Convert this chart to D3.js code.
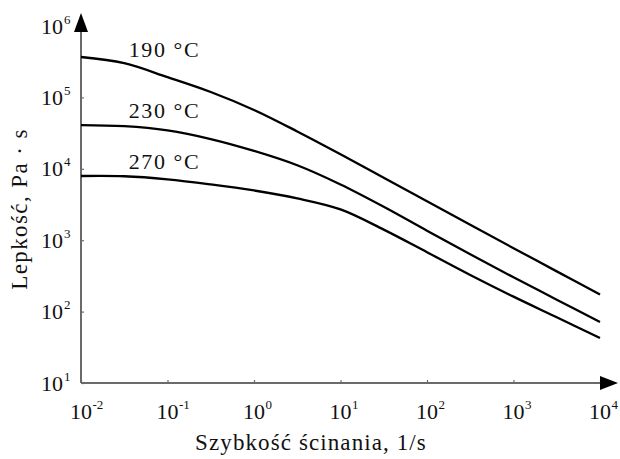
<!DOCTYPE html>
<html>
<head>
<meta charset="utf-8">
<script src="https://cdn.jsdelivr.net/npm/d3@7"></script>
<style>
  body { margin: 0; background: #fff; }
  text { font-family: "Liberation Serif", "Times New Roman", serif; fill: #111; }
</style>
</head>
<body>
<script>
// shear rate, 1/s
var rate = [0.01, 0.0316, 0.1, 0.316, 1, 3.16, 10, 31.6, 100, 316, 1000, 3160, 10000];
// viscosity, Pa s
var eta190 = [368000, 301000, 192000, 119000, 66700, 33400, 16000, 7480, 3500, 1640, 774, 366, 173];
var eta230 = [41000, 39600, 34500, 26100, 17800, 11200, 6030, 2940, 1360, 635, 302, 147, 71.4];
var eta270 = [7930, 7870, 7130, 6050, 4970, 3850, 2700, 1406, 679, 326, 162, 83.2, 42.7];

var series = ['190 °C', '230 °C', '270 °C'];
var labelRate = [0.1, 0.1, 0.1];
var labelEta = [370000, 52000, 10000];

var xTicks = [1e-2, 1e-1, 1e0, 1e1, 1e2, 1e3, 1e4];
var xExp = ['-2', '-1', '0', '1', '2', '3', '4'];
var yTicks = [1e1, 1e2, 1e3, 1e4, 1e5, 1e6];
var yExp = ['1', '2', '3', '4', '5', '6'];

var width = 620,
    height = 459;

var svg = d3.select('body').append('svg')
    .attr('width', width)
    .attr('height', height);

var x = d3.scaleLog().domain([1e-2, 1e4]).range([81, 600]);
var y = d3.scaleLog().domain([1e1, 1e6]).range([383, 26]);

var axisColor = '#6a6a6a';

// ticks (inside, tiny)
svg.append('g')
    .attr('transform', 'translate(0,' + y(10) + ')')
    .call(d3.axisBottom(x).tickValues(xTicks).tickSize(-3).tickFormat(''))
    .call(function (g) { g.select('.domain').remove(); })
    .selectAll('line').attr('stroke', axisColor).attr('stroke-width', 1.2);

svg.append('g')
    .attr('transform', 'translate(' + x(0.01) + ',0)')
    .call(d3.axisLeft(y).tickValues(yTicks).tickSize(-3).tickFormat(''))
    .call(function (g) { g.select('.domain').remove(); })
    .selectAll('line').attr('stroke', axisColor).attr('stroke-width', 1.2);

// axis lines with arrows
svg.append('line')
    .attr('x1', x(0.01)).attr('y1', y(10))
    .attr('x2', 604).attr('y2', y(10))
    .attr('stroke', axisColor).attr('stroke-width', 2);
svg.append('path')
    .attr('d', 'M600,' + (y(10) - 7) + 'L618,' + y(10) + 'L600,' + (y(10) + 7) + 'Z')
    .attr('fill', '#000');

svg.append('line')
    .attr('x1', x(0.01)).attr('y1', y(10))
    .attr('x2', x(0.01)).attr('y2', 28)
    .attr('stroke', axisColor).attr('stroke-width', 2);
svg.append('path')
    .attr('d', 'M' + (x(0.01) - 7) + ',32L' + x(0.01) + ',13L' + (x(0.01) + 7) + ',32Z')
    .attr('fill', '#000');

// tick labels: 10 with superscript exponent
var xl = svg.append('g').selectAll('g')
    .data(xTicks)
    .enter().append('g')
    .attr('transform', function (d) { return 'translate(' + x(d) + ',419)'; });
xl.append('text')
    .attr('text-anchor', 'middle')
    .style('font-size', '22px')
    .text('10');
xl.append('text')
    .attr('x', 11.5)
    .attr('y', -10)
    .style('font-size', '13px')
    .text(function (d, i) { return xExp[i]; });

var yl = svg.append('g').selectAll('g')
    .data(yTicks)
    .enter().append('g')
    .attr('transform', function (d) { return 'translate(63,' + (y(d) + 7.5) + ')'; });
yl.append('text')
    .attr('text-anchor', 'end')
    .style('font-size', '22px')
    .text('10');
yl.append('text')
    .attr('x', 1)
    .attr('y', -10)
    .style('font-size', '13px')
    .text(function (d, i) { return yExp[i]; });

// axis titles
svg.append('text')
    .attr('x', 311)
    .attr('y', 450)
    .attr('text-anchor', 'middle')
    .style('font-size', '23px')
    .style('letter-spacing', '1.1px')
    .text('Szybkość ścinania, 1/s');

svg.append('text')
    .attr('transform', 'translate(27,209) rotate(-90)')
    .attr('text-anchor', 'middle')
    .style('font-size', '23px')
    .style('letter-spacing', '1.4px')
    .text('Lepkość, Pa · s');

// curves
var line = d3.line()
    .x(function (d) { return x(d[0]); })
    .y(function (d) { return y(d[1]); })
    .curve(d3.curveCatmullRom.alpha(0.5));

[eta190, eta230, eta270].forEach(function (vals, k) {
    svg.append('path')
        .datum(rate.map(function (r, i) { return [r, vals[i]]; }))
        .attr('fill', 'none')
        .attr('stroke', '#000')
        .attr('stroke-width', 2.3)
        .attr('d', line);

    svg.append('text')
        .attr('x', x(labelRate[k]) - 3)
        .attr('y', y(labelEta[k]))
        .attr('text-anchor', 'middle')
        .style('font-size', '22px')
        .style('letter-spacing', '1.6px')
        .text(series[k]);
});
</script>
</body>
</html>
